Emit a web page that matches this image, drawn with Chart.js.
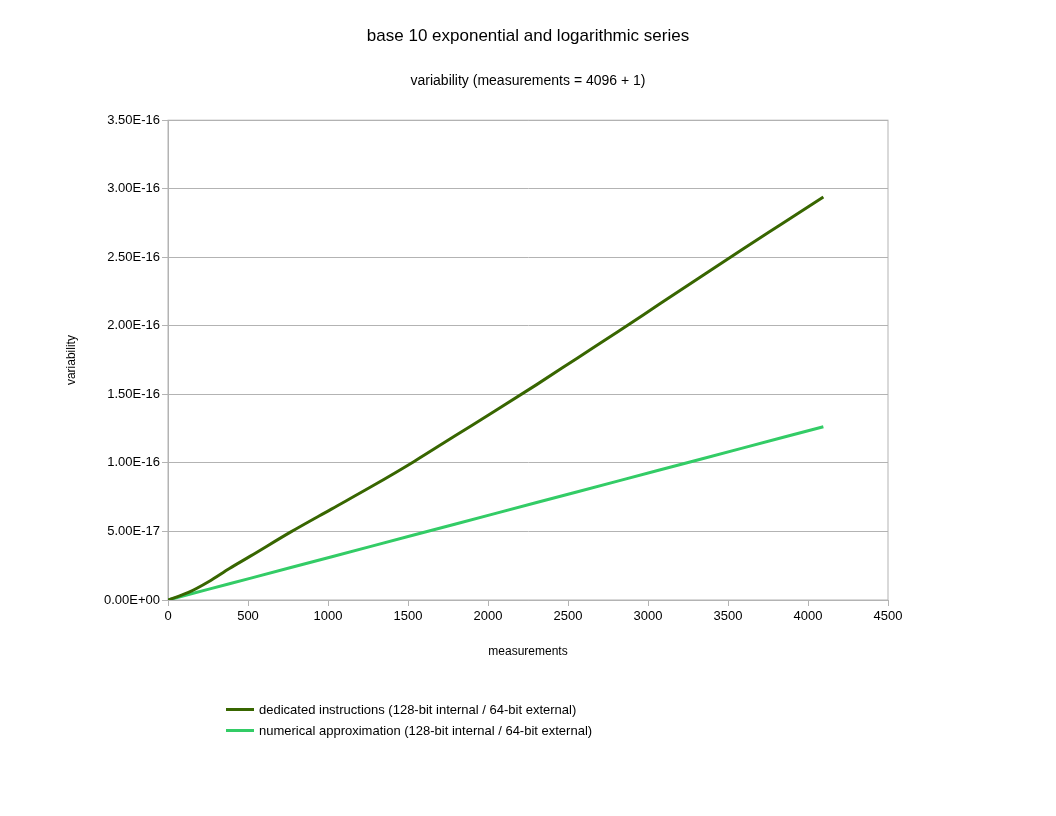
<!DOCTYPE html>
<html lang="en">
  <head>
    <meta charset="UTF-8" />
    <title>base 10 exponential and logarithmic series</title>
    <script src="https://cdn.jsdelivr.net/npm/chart.js@4.4.1/dist/chart.umd.min.js"></script>
    <style>
      body { margin: 0; background: #fff; font-family: "Liberation Sans", Arial, sans-serif; }
      .wrap { position: relative; width: 1056px; height: 816px; }
      .legend { position: absolute; left: 226px; top: 700px; font-size: 13px; color: #000; }
      .legend div { height: 21px; line-height: 19px; white-space: nowrap; }
      .legend span { display: inline-block; width: 28px; height: 3px; margin-right: 5px; vertical-align: middle; position: relative; top: -1px; }
    </style>
  </head>
  <body>
    <div class="wrap">
      <canvas id="varChart" width="1056" height="816"></canvas>
      <div class="legend">
        <div><span style="background:#386600"></span>dedicated instructions (128-bit internal / 64-bit external)</div>
        <div><span style="background:#33cc66"></span>numerical approximation (128-bit internal / 64-bit external)</div>
      </div>
    </div>

    <script>
      // values
      var measurements = [0, 128, 256, 384, 512, 768, 1024, 1280, 1536, 1792, 2048, 2304, 2560, 2816, 3072, 3328, 3584, 3840, 4096];
      var dedicated = [0, 0.55e-17, 1.35e-17, 2.3e-17, 3.18e-17, 4.97e-17, 6.65e-17, 8.33e-17, 1.009e-16, 1.196e-16,
        1.382e-16, 1.571e-16, 1.766e-16, 1.96e-16, 2.159e-16, 2.357e-16, 2.554e-16, 2.747e-16, 2.94e-16];
      var numerical = [0, 0.4e-17, 0.79e-17, 1.18e-17, 1.58e-17, 2.37e-17, 3.16e-17, 3.95e-17, 4.74e-17, 5.53e-17,
        6.32e-17, 7.11e-17, 7.9e-17, 8.69e-17, 9.48e-17, 1.027e-16, 1.106e-16, 1.185e-16, 1.264e-16];
      var seriesNames = [
        "dedicated instructions (128-bit internal / 64-bit external)",
        "numerical approximation (128-bit internal / 64-bit external)"
      ];

      function pts(ys) {
        return measurements.map(function (x, i) { return { x: x, y: ys[i] }; });
      }

      function sci(v) {
        var s = Number(v).toExponential(2).toUpperCase();
        var parts = s.split("E");
        var exp = parseInt(parts[1], 10);
        var sign = exp < 0 ? "-" : "+";
        var digits = String(Math.abs(exp));
        if (digits.length < 2) digits = "0" + digits;
        return parts[0] + "E" + sign + digits;
      }

      // frame round the plot area
      var frame = {
        id: "frame",
        beforeDatasetsDraw: function (chart) {
          var a = chart.chartArea, ctx = chart.ctx;
          ctx.save();
          ctx.strokeStyle = "#b3b3b3";
          ctx.lineWidth = 1;
          ctx.strokeRect(a.left, a.top, a.right - a.left, a.bottom - a.top);
          ctx.restore();
        }
      };

      Chart.defaults.font.family = '"Liberation Sans", Arial, sans-serif';
      Chart.defaults.color = "#000";

      var ctx = document.getElementById("varChart").getContext("2d");
      var chart = new Chart(ctx, {
        type: "scatter",
        data: {
          datasets: [
            {
              label: seriesNames[0],
              data: pts(dedicated),
              showLine: true,
              borderColor: "#386600",
              borderWidth: 3,
              pointRadius: 0,
              cubicInterpolationMode: "monotone"
            },
            {
              label: seriesNames[1],
              data: pts(numerical),
              showLine: true,
              borderColor: "#33cc66",
              borderWidth: 3,
              pointRadius: 0,
              tension: 0
            }
          ]
        },
        options: {
          responsive: false,
          animation: false,
          layout: { padding: { left: 0, right: 0, top: 0, bottom: 146 } },
          plugins: {
            legend: { display: false },
            tooltip: { enabled: false },
            title: {
              display: true,
              text: "base 10 exponential and logarithmic series",
              font: { size: 17, weight: "normal" },
              padding: { top: 26, bottom: 0 }
            },
            subtitle: {
              display: true,
              text: "variability (measurements = 4096 + 1)",
              font: { size: 14, weight: "normal" },
              padding: { top: 26, bottom: 31 }
            }
          },
          scales: {
            x: {
              type: "linear",
              min: 0,
              max: 4500,
              afterFit: function (s) { s.height = 70; },
              ticks: { stepSize: 500, font: { size: 13 }, padding: 3, maxRotation: 0, callback: function (v) { return String(v); } },
              grid: { drawOnChartArea: false, tickLength: 6, color: "#b3b3b3" },
              border: { color: "#b3b3b3" },
              title: { display: true, text: "measurements", font: { size: 12 }, padding: { top: 0, bottom: 11 } }
            },
            y: {
              min: 0,
              max: 3.5e-16,
              afterFit: function (s) { s.width = 168; },
              ticks: { stepSize: 0.5e-16, font: { size: 13 }, padding: 2, callback: function (v) { return sci(v); } },
              grid: { tickLength: 6, color: "#b3b3b3" },
              border: { color: "#b3b3b3" },
              title: { display: true, text: "variability", font: { size: 12 }, padding: { top: 64, bottom: 0 } }
            },
            // empty right-hand axis keeps the same margin as the left one
            yRight: {
              position: "right",
              min: 0,
              max: 3.5e-16,
              afterFit: function (s) { s.width = 168; },
              ticks: { display: false },
              grid: { display: false },
              border: { display: false }
            }
          }
        },
        plugins: [frame]
      });
    </script>
  </body>
</html>
